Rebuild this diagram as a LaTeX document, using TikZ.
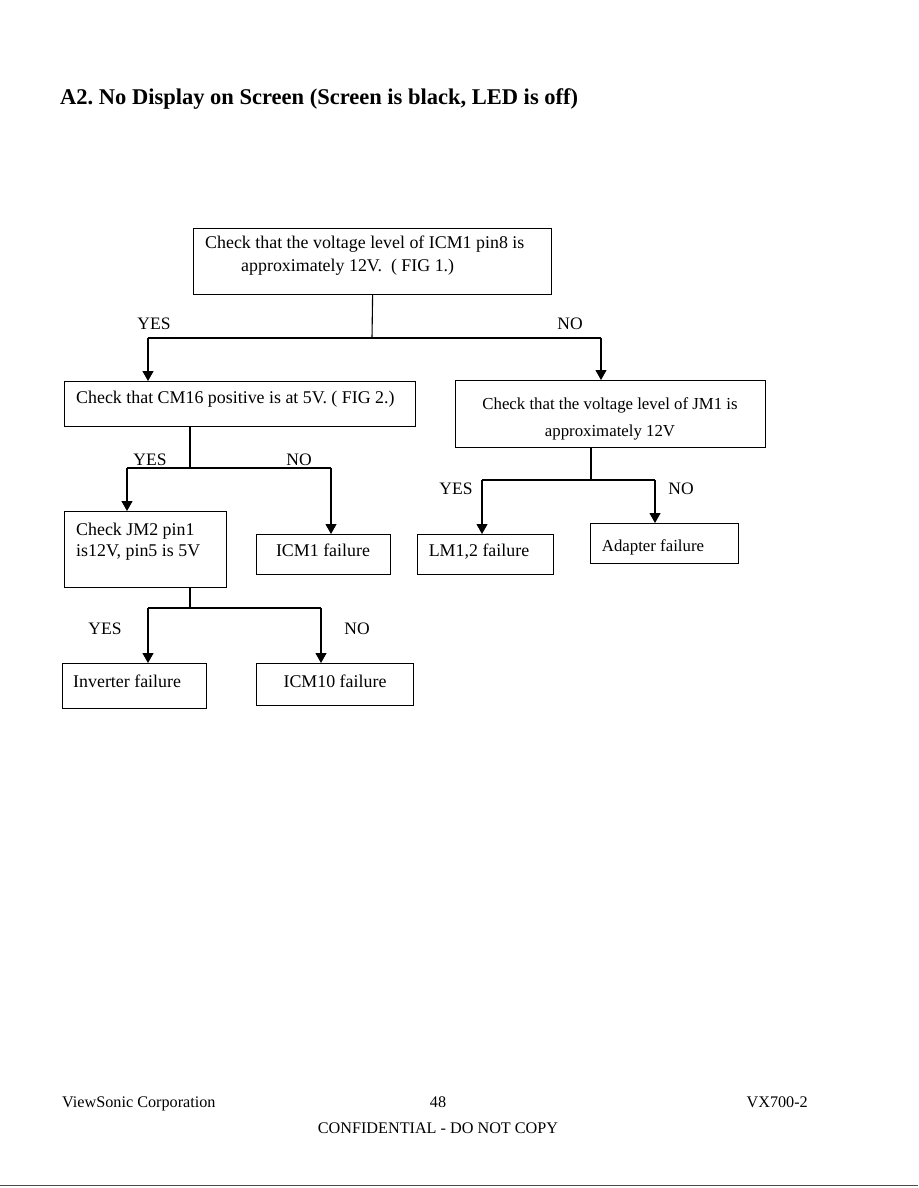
\documentclass[tikz,border=0pt]{standalone}
\usepackage{fontspec}
\setmainfont{Liberation Serif}
\usetikzlibrary{arrows.meta}
\frenchspacing
\tikzset{
  box/.style={draw, line width=1.2pt, rectangle, inner sep=0pt, anchor=north west},
  txt/.style={inner sep=0pt, font=\fontsize{17.9}{21}\selectfont, anchor=base west},
  lbl/.style={inner sep=0pt, font=\fontsize{17.5}{21}\selectfont, anchor=base},
  con/.style={line width=1.1pt},
  arr/.style={line width=1.1pt, -{Triangle[width=11pt,length=10pt]}},
  foot/.style={inner sep=0pt, font=\fontsize{16.2}{19}\selectfont, anchor=base}
}
\begin{document}
\begin{tikzpicture}[x=1pt,y=-1pt]
\useasboundingbox (0,0) rectangle (918,1188);
\fill[white] (0,0) rectangle (918,1188);
% title
\node[inner sep=0pt, anchor=base west, font=\fontsize{22.5}{26}\bfseries] (title) at (60,105) {A2. No Display on Screen (Screen is black, LED is off)};
% boxes
\node[box, minimum width=358, minimum height=66] (b1) at (193,228) {};
\node[txt] (t1a) at (205,248) {Check that the voltage level of ICM1 pin8 is};
\node[txt] (t1b) at (241,271) {approximately 12V.\ \ ( FIG 1.)};
\node[box, minimum width=351, minimum height=45] (b2) at (64,381) {};
\node[txt] (t2) at (76,403) {Check that CM16 positive is at 5V. ( FIG 2.)};
\node[box, minimum width=310, minimum height=67] (b3) at (455,380) {};
\node[txt, anchor=base, font=\fontsize{16.8}{20}\selectfont] (t3a) at (610,409) {Check that the voltage level of JM1 is};
\node[txt, anchor=base, font=\fontsize{16.8}{20}\selectfont] (t3b) at (610,436) {approximately 12V};
\node[box, minimum width=162, minimum height=76] (b4) at (64,511) {};
\node[txt] (t4a) at (76,535) {Check JM2 pin1};
\node[txt] (t4b) at (76,556) {is12V, pin5 is 5V};
\node[box, minimum width=134, minimum height=40] (b5) at (256,534) {};
\node[txt, anchor=base] (t5) at (323,556) {ICM1 failure};
\node[box, minimum width=144, minimum height=45] (b6) at (62,663) {};
\node[txt] (t6) at (73,687) {Inverter failure};
\node[box, minimum width=157, minimum height=42] (b7) at (256,663) {};
\node[txt, anchor=base] (t7) at (335,687) {ICM10 failure};
\node[box, minimum width=136, minimum height=40] (b8) at (417,534) {};
\node[txt, anchor=base] (t8) at (479,556) {LM1,2 failure};
\node[box, minimum width=148, minimum height=40] (b9) at (590,523) {};
\node[txt, anchor=base, font=\fontsize{16.8}{20}\selectfont] (t9) at (653,551) {Adapter failure};
% connectors level 1
\coordinate (j1) at (372,338);
\coordinate (y1) at (148,338);
\coordinate (n1) at (601,338);
\draw[con] (b1.south) -- (j1);
\draw[con] (y1) -- (n1);
\draw[arr] (y1) -- (y1 |- b2.north);
\draw[arr] (n1) -- (n1 |- b3.north);
\node[lbl] (l1y) at (154,329) {YES};
\node[lbl] (l1n) at (570,329) {NO};
% level 2 left
\coordinate (j2) at (190,468);
\coordinate (y2) at (127,468);
\coordinate (n2) at (331,468);
\draw[con] (b2.south -| j2) -- (j2);
\draw[con] (y2) -- (n2);
\draw[arr] (y2) -- (y2 |- b4.north);
\draw[arr] (n2) -- (n2 |- b5.north);
\node[lbl] (l2y) at (150,465) {YES};
\node[lbl] (l2n) at (299,465) {NO};
% level 3
\coordinate (j3) at (190,608);
\coordinate (y3) at (148,608);
\coordinate (n3) at (321,608);
\draw[con] (b4.south -| j3) -- (j3);
\draw[con] (y3) -- (n3);
\draw[arr] (y3) -- (y3 |- b6.north);
\draw[arr] (n3) -- (n3 |- b7.north);
\node[lbl] (l3y) at (105,634) {YES};
\node[lbl] (l3n) at (357,634) {NO};
% level 2 right
\coordinate (j4) at (591,480);
\coordinate (y4) at (482,480);
\coordinate (n4) at (655,480);
\draw[con] (b3.south -| j4) -- (j4);
\draw[con] (y4) -- (n4);
\draw[arr] (y4) -- (y4 |- b8.north);
\draw[arr] (n4) -- (n4 |- b9.north);
\node[lbl] (l4y) at (456,494) {YES};
\node[lbl] (l4n) at (681,494) {NO};
% footer
\node[foot, anchor=base west] (f1) at (62,1107) {ViewSonic Corporation};
\node[foot] (f2) at (438,1107) {48};
\node[foot, anchor=base east] (f3) at (808,1107) {VX700-2};
\node[foot] (f4) at (438,1133) {CONFIDENTIAL - DO NOT COPY};
\draw[line width=0.8pt, black!70] (0,1185) -- (918,1185);
\end{tikzpicture}
\end{document}
